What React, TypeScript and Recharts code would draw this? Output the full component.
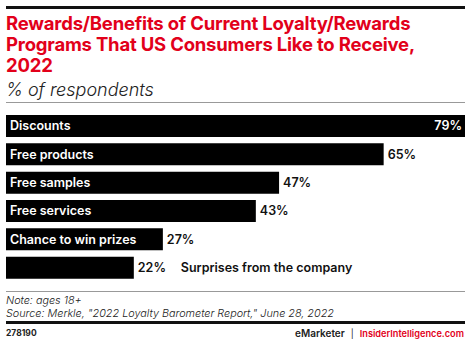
import { Bar, BarChart, LabelList, XAxis, YAxis } from "recharts";

const categories = [
  "Discounts",
  "Free products",
  "Free samples",
  "Free services",
  "Chance to win prizes",
  "Surprises from the company",
];
const values = [79, 65, 47, 43, 27, 22];
// which categories have their name drawn inside the bar
const nameInside = [true, true, true, true, true, false];

const data = categories.map((name, i) => ({ name, value: values[i] }));

const RED = "#e2001a";
const FONT = "Inter, 'Noto Sans', sans-serif";

const BarLabel = (props: any) => {
  const { x, y, width, height, index, value } = props;
  const cy = y + height / 2;
  const inside = nameInside[index];
  const pct = `${value}%`;
  // value fits inside the end of the longest bar
  const valueInside = index === 0;
  return (
    <g fontFamily={FONT} fontWeight={600} fontSize={12.5}>
      {inside && (
        <text x={x + 4} y={cy} dy="0.35em" fill="#fff">
          {categories[index]}
        </text>
      )}
      {valueInside ? (
        <text x={x + width - 3} y={cy} dy="0.35em" fill="#fff" textAnchor="end">
          {pct}
        </text>
      ) : (
        <text x={x + width + 4} y={cy} dy="0.35em" fill="#111">
          {pct}
        </text>
      )}
      {!inside && (
        <text x={x + width + 47} y={cy} dy="0.35em" fill="#111">
          {categories[index]}
        </text>
      )}
    </g>
  );
};

export default function App() {
  return (
    <div
      style={{
        position: "absolute",
        left: 0,
        top: 0,
        width: 470,
        height: 342,
        background: "#fff",
        fontFamily: FONT,
        overflow: "hidden",
      }}
    >
      <div style={{ position: "absolute", left: 6, top: 6, width: 459, height: 3, background: "#111" }} />
      <div
        style={{
          position: "absolute",
          left: 6,
          top: 13,
          width: 464,
          color: RED,
          fontWeight: 700,
          fontSize: 18.5,
          lineHeight: "21px",
          letterSpacing: -0.2,
          whiteSpace: "nowrap",
        }}
      >
        Rewards/Benefits of Current Loyalty/Rewards
        <br />
        Programs That US Consumers Like to Receive,
        <br />
        2022
      </div>
      <div
        style={{
          position: "absolute",
          left: 6,
          top: 79,
          fontStyle: "italic",
          fontSize: 18,
          color: "#222",
          fontWeight: 300,
        }}
      >
        % of respondents
      </div>
      <div style={{ position: "absolute", left: 6, top: 102, width: 459, height: 1, background: "#999" }} />

      <div style={{ position: "absolute", left: 0, top: 112 }}>
        <BarChart
          width={470}
          height={170}
          data={data}
          layout="vertical"
          margin={{ top: 0, right: 5, bottom: 0, left: 6 }}
          barCategoryGap={6}
        >
          <XAxis type="number" domain={[0, 79]} hide />
          <YAxis type="category" dataKey="name" hide width={0} />
          <Bar dataKey="value" fill="#000" isAnimationActive={false} barSize={22}>
            <LabelList dataKey="value" content={<BarLabel />} />
          </Bar>
        </BarChart>
      </div>

      <div style={{ position: "absolute", left: 6, top: 291, width: 459, height: 1, background: "#999" }} />
      <div
        style={{
          position: "absolute",
          left: 6,
          top: 295,
          fontStyle: "italic",
          fontSize: 10.8,
          lineHeight: "12.5px",
          color: "#222",
          fontWeight: 300,
        }}
      >
        <div>Note: ages 18+</div>
        <div>Source: Merkle, "2022 Loyalty Barometer Report," June 28, 2022</div>
      </div>
      <div style={{ position: "absolute", left: 6, top: 321, width: 459, height: 3, background: "#111" }} />
      <div
        style={{ position: "absolute", left: 6, top: 328, fontSize: 8.5, fontWeight: 700, color: "#222" }}
      >
        278190
      </div>
      <div
        style={{
          position: "absolute",
          right: 6,
          top: 327,
          fontSize: 9,
          fontWeight: 600,
          color: "#222",
          whiteSpace: "nowrap",
        }}
      >
        <span style={{ fontSize: 10 }}>eMarketer</span>
        <span style={{ margin: "0 6px", fontWeight: 400 }}>|</span>
        <span style={{ color: RED, fontSize: 9.2 }}>InsiderIntelligence.com</span>
      </div>
    </div>
  );
}
